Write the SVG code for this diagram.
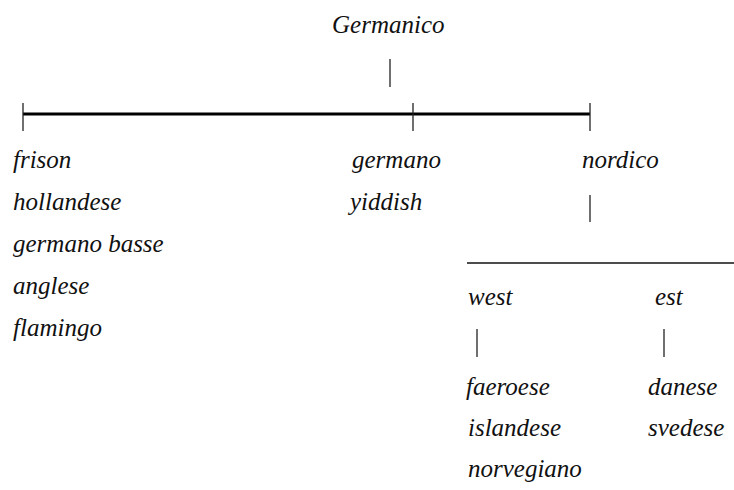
<svg xmlns="http://www.w3.org/2000/svg" width="734" height="490" viewBox="0 0 734 490">
<style>
.t{font-style:italic;font-size:25px;fill:#111}
.tick{stroke:#222;stroke-width:1.3}
.bar{stroke:#000;stroke-width:3}
.rule{stroke:#111;stroke-width:1.5}
</style>
<rect width="734" height="490" fill="#fff"/>
<g id="connectors">
<line class="tick" x1="390" y1="59" x2="390" y2="87"/>
<line class="bar" x1="23" y1="114" x2="590" y2="114"/>
<line class="tick" x1="23" y1="103" x2="23" y2="131"/>
<line class="tick" x1="413" y1="103" x2="413" y2="131"/>
<line class="tick" x1="590" y1="103" x2="590" y2="131"/>
<line class="tick" x1="590" y1="195" x2="590" y2="222"/>
<line class="rule" x1="467" y1="263" x2="734" y2="263"/>
<line class="tick" x1="477" y1="329" x2="477" y2="357"/>
<line class="tick" x1="664" y1="329" x2="664" y2="357"/>
</g>
<g class="t" font-family="Liberation Serif, DejaVu Serif, serif">
<g id="germanico"><text x="332" y="33">Germanico</text></g>
<g id="westgroup-left">
<text x="13" y="168">frison</text>
<text x="13" y="210">hollandese</text>
<text x="13" y="252">germano basse</text>
<text x="13" y="294">anglese</text>
<text x="13" y="336">flamingo</text>
</g>
<g id="germano">
<text x="352" y="168">germano</text>
<text x="350" y="210">yiddish</text>
</g>
<g id="nordico"><text x="582" y="168">nordico</text></g>
<g id="west">
<text x="468" y="305">west</text>
</g>
<g id="est">
<text x="655" y="305">est</text>
</g>
<g id="west-langs">
<text x="466" y="395">faeroese</text>
<text x="468" y="436">islandese</text>
<text x="468" y="477">norvegiano</text>
</g>
<g id="est-langs">
<text x="648" y="395">danese</text>
<text x="648" y="436">svedese</text>
</g>
</g>
</svg>
